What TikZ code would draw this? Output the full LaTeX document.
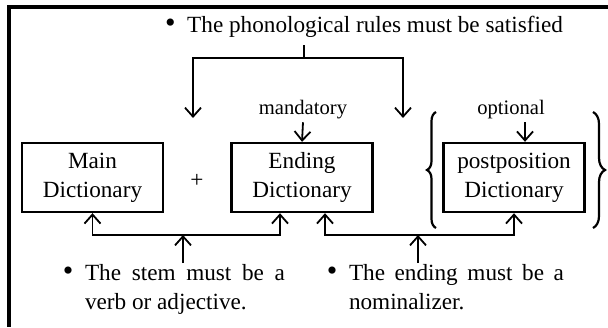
\documentclass[tikz,border=0pt]{standalone}
\usepackage{fontspec}
\setmainfont{Liberation Serif}
\usetikzlibrary{arrows.meta,decorations.pathreplacing}
\newcommand{\dotmark}{{\fontsize{15}{14.5}\selectfont\textbullet}\enspace}
\tikzset{>={Straight Barb[length=4.5pt,width=8pt]}}
\tikzset{dict/.style={draw, line width=1.2pt, align=center, minimum width=70.5pt,
    minimum height=34.5pt, inner sep=0pt},
  remark/.style={font=\fontsize{10.3}{11}\selectfont, inner sep=1pt},
  cond/.style={anchor=north west, align=left, inner sep=0pt},
  curly/.style={line width=1.1pt, decorate, decoration={brace, amplitude=#1}}}

\begin{document}
\begin{tikzpicture}[x=0.5pt, y=-0.5pt, line width=0.9pt,
  font=\fontsize{11.6}{14.5}\selectfont]
    \useasboundingbox (0,0) rectangle (608,327);
    \draw[line width=1.6pt] (608,7) -| (9,327);
    \node (main) [dict] at (92.5,177.5) {Main\\Dictionary};
    \node (plus) at (197,181) {+};
    \node (ending) [dict] at (302,177.5) {Ending\\Dictionary};
    \node (post) [dict] at (514,177.5) {postposition\\Dictionary};
    % phonological rules -> main and ending
    \node (rules) at (364,27) {\dotmark The phonological rules must be satisfied};
    \coordinate (rulesjoin) at (304,58);
    \coordinate (maindrop) at (193,118);
    \coordinate (enddrop) at (403,118);
    \draw (rules.south -| rulesjoin) -- (rulesjoin);
    \draw[->] (rulesjoin) -| (maindrop);
    \draw[->] (rulesjoin) -| (enddrop);
    \node (mand) [remark] at (303,110) {mandatory};
    \draw[->] (mand.south) -- (ending.north);
    \node (opt) [remark] at (511,110) {optional};
    \draw[->] ([xshift=7pt]opt.south) -- ([xshift=5.5pt]post.north);
    \draw[curly=4.5pt] (436,228) -- (436,112);
    \draw[curly=6pt] (593,112) -- (593,228);
    % stem and ending conditions
    \coordinate (stemjoin) at (183,235);
    \coordinate (nomjoin) at (418,235);
    \draw[->] (stemjoin) -| (main.south);
    \draw[->] (stemjoin) -| ([xshift=-11pt]ending.south);
    \draw[->] (nomjoin) -| ([xshift=11.5pt]ending.south);
    \draw[->] (nomjoin) -| (post.south);
    \node (stem) [cond] at (62,263) {\dotmark\makebox[100pt][s]{The stem must be a}\\
      \phantom{\dotmark}verb or adjective.};
    \node (nom) [cond] at (326,263) {\dotmark\makebox[107.5pt][s]{The ending must be a}\\
      \phantom{\dotmark}nominalizer.};
    \draw[->] (stem.north -| stemjoin) -- (stemjoin);
    \draw[->] (nom.north -| nomjoin) -- (nomjoin);
\end{tikzpicture}
\end{document}
